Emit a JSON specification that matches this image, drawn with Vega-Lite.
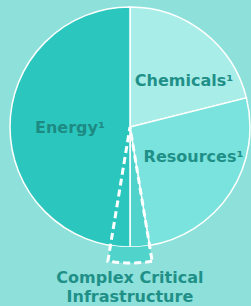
{
  "$schema": "https://vega.github.io/schema/vega-lite/v6.json",
  "autosize": "none",
  "width": 242,
  "height": 254,
  "padding": {"left": 9, "top": 0, "right": 0, "bottom": 52},
  "background": "#8ee0da",
  "config": {"view": {"stroke": null}},
  "datasets": {
    "slices": [
      {"category": "Chemicals", "label": "Chemicals¹", "value": 21.1, "order": 1},
      {"category": "Resources", "label": "Resources¹", "value": 26.3, "order": 2},
      {"category": "Complex Critical Infrastructure", "label": "Complex Critical\nInfrastructure", "value": 2.6, "order": 3},
      {"category": "Energy", "label": "Energy¹", "value": 50.0, "order": 4}
    ],
    "highlight": [
      {"category": "Complex Critical Infrastructure", "start": 47.4, "end": 52.6}
    ]
  },
  "layer": [
    {
      "data": {"name": "slices"},
      "mark": {"type": "arc", "radius": 120, "stroke": "white", "strokeWidth": 1.5},
      "encoding": {
        "theta": {"field": "value", "type": "quantitative", "stack": true, "scale": {"domain": [0, 100]}},
        "order": {"field": "order", "type": "quantitative"},
        "color": {
          "field": "category", "type": "nominal", "legend": null,
          "scale": {
            "domain": ["Chemicals", "Resources", "Complex Critical Infrastructure", "Energy"],
            "range": ["#a9ede8", "#7ae3dd", "#4fd3ca", "#2bc7bf"]
          }
        }
      }
    },
    {
      "data": {"name": "highlight"},
      "mark": {"type": "arc", "radius": 136, "radius2": 120, "fill": "#4fd3ca", "stroke": null},
      "encoding": {
        "theta": {"field": "start", "type": "quantitative"},
        "theta2": {"field": "end"}
      }
    },
    {
      "data": {"name": "highlight"},
      "mark": {"type": "arc", "radius": 136, "radius2": 0, "fill": null, "fillOpacity": 0, "stroke": "white", "strokeWidth": 3, "strokeDash": [7, 4]},
      "encoding": {
        "theta": {"field": "start", "type": "quantitative"},
        "theta2": {"field": "end"}
      }
    },
    {
      "data": {"name": "slices"},
      "mark": {"type": "text", "radius": 70, "dx": 11, "dy": 9, "font": "DejaVu Sans", "fontWeight": "bold", "fontSize": 16, "fill": "#1f9088"},
      "encoding": {
        "theta": {"field": "value", "type": "quantitative", "stack": true},
        "order": {"field": "order", "type": "quantitative"},
        "text": {"condition": {"test": "datum.category === 'Chemicals'", "field": "label"}, "value": ""}
      }
    },
    {
      "data": {"name": "slices"},
      "mark": {"type": "text", "radius": 70, "dx": 5, "dy": -8, "font": "DejaVu Sans", "fontWeight": "bold", "fontSize": 16, "fill": "#1f9088"},
      "encoding": {
        "theta": {"field": "value", "type": "quantitative", "stack": true},
        "order": {"field": "order", "type": "quantitative"},
        "text": {"condition": {"test": "datum.category === 'Resources'", "field": "label"}, "value": ""}
      }
    },
    {
      "data": {"name": "slices"},
      "mark": {"type": "text", "radius": 70, "dx": 10, "dy": 1, "font": "DejaVu Sans", "fontWeight": "bold", "fontSize": 16, "fill": "#1d8b83"},
      "encoding": {
        "theta": {"field": "value", "type": "quantitative", "stack": true},
        "order": {"field": "order", "type": "quantitative"},
        "text": {"condition": {"test": "datum.category === 'Energy'", "field": "label"}, "value": ""}
      }
    },
    {
      "data": {"name": "slices"},
      "mark": {"type": "text", "radius": 158, "dx": -13, "dy": -6, "lineBreak": "\n", "lineHeight": 19, "font": "DejaVu Sans", "fontWeight": "bold", "fontSize": 16, "fill": "#1f9088"},
      "encoding": {
        "theta": {"field": "value", "type": "quantitative", "stack": true},
        "order": {"field": "order", "type": "quantitative"},
        "text": {"condition": {"test": "datum.category === 'Complex Critical Infrastructure'", "field": "label"}, "value": ""}
      }
    }
  ]
}
